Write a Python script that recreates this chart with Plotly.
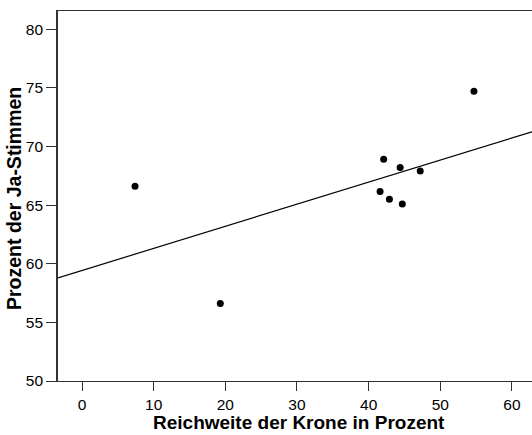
import numpy as np
import plotly.graph_objects as go

# Data
reichweite = [7.4, 19.3, 41.6, 42.1, 42.9, 44.4, 44.7, 47.2, 54.7]
ja_stimmen = [66.6, 56.6, 66.15, 68.9, 65.5, 68.2, 65.1, 67.9, 74.7]

x_ticks = [0, 10, 20, 30, 40, 50, 60]
y_ticks = [50, 55, 60, 65, 70, 75, 80]
x_range = [-3.35, 62.8]
y_range = [50, 81.55]

x_title = "Reichweite der Krone in Prozent"
y_title = "Prozent der Ja-Stimmen"

slope, intercept = np.polyfit(reichweite, ja_stimmen, 1)
line_x = np.array(x_range)
line_y = intercept + slope * line_x

FONT = "Liberation Sans, Arial, sans-serif"

fig = go.Figure()
fig.add_trace(go.Scatter(x=line_x, y=line_y, mode="lines",
                         line=dict(color="black", width=1.2),
                         hoverinfo="skip", showlegend=False))
fig.add_trace(go.Scatter(x=reichweite, y=ja_stimmen, mode="markers",
                         marker=dict(color="black", size=7),
                         showlegend=False))

fig.update_layout(
    width=532, height=435,
    margin=dict(l=58, r=0, t=11, b=54),
    paper_bgcolor="white", plot_bgcolor="white",
    font=dict(family=FONT, color="black", size=15),
    xaxis=dict(range=x_range, tickvals=x_ticks, showgrid=False, zeroline=False,
               showline=True, linecolor="#333", linewidth=1.4, mirror=True,
               ticks="outside", ticklen=9, tickwidth=1.2, tickcolor="#333",
               tickfont=dict(size=15.5)),
    yaxis=dict(range=y_range, tickvals=y_ticks, showgrid=False, zeroline=False,
               showline=True, linecolor="#333", linewidth=1.6,
               ticks="outside", ticklen=10, tickwidth=1.2, tickcolor="#333",
               tickfont=dict(size=15.5)),
    annotations=[
        dict(text="<b>" + x_title + "</b>", xref="paper", yref="paper",
             x=(299 - 58) / 474, y=-(434 - 381) / 370, xanchor="center", yanchor="bottom",
             showarrow=False, font=dict(size=19, family=FONT), borderpad=0),
        dict(text="<b>" + y_title + "</b>", xref="paper", yref="paper",
             x=-(58 - 14) / 474, y=(381 - 199) / 370, xanchor="center", yanchor="middle",
             textangle=-90, showarrow=False, font=dict(size=19.5, family=FONT)),
    ],
)

fig.write_html("out.html", config={"displayModeBar": False},
               post_script="document.body.style.margin='0px';document.body.style.overflow='hidden';")
